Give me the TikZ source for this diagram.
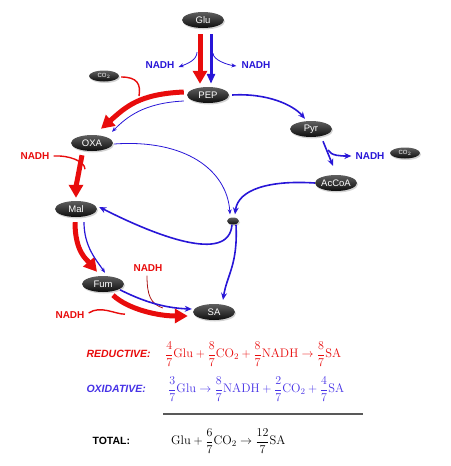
\documentclass[tikz,border=0pt]{standalone}
\usepackage{fontspec}
\setsansfont{Liberation Sans}
\usepackage{amsmath}
\usetikzlibrary{shapes.geometric,arrows.meta,calc,shadows}
\definecolor{rr}{RGB}{232,12,12}
\definecolor{bb}{RGB}{40,22,215}
\definecolor{bt}{RGB}{70,50,230}
\definecolor{dr}{RGB}{170,20,20}
\tikzset{
 met/.style={ellipse, minimum width=42pt, minimum height=16pt, inner sep=0pt, top color=gray!75!black, bottom color=black!95, draw=none, text=white, font=\sffamily\fontsize{9.5}{10}\selectfont, drop shadow={opacity=0.35, shadow xshift=1pt, shadow yshift=-1.5pt}},
 metsm/.style={met, minimum width=30pt, minimum height=11pt, font=\sffamily\fontsize{6}{6}\selectfont},
 dotnode/.style={met, minimum width=12pt, minimum height=7pt},
 nb/.style={text=bb, font=\sffamily\bfseries\fontsize{10}{11}\selectfont, inner sep=1pt},
 nr/.style={text=rr, font=\sffamily\bfseries\fontsize{10}{11}\selectfont, inner sep=1pt},
 redfat/.style={draw=rr, line width=5pt, -{Triangle[length=13pt,width=14pt]}},
 bluefat/.style={draw=bb, line width=3pt, -{Triangle[length=10pt,width=8pt]}},
 bluemid/.style={draw=bb, line width=1.6pt, -{Stealth[length=7pt,width=6pt]}},
 bluethin/.style={draw=bb, line width=0.8pt, -{Stealth[length=5pt,width=4pt]}},
 redthin/.style={draw=rr, line width=1.4pt},
 drthin/.style={draw=dr, line width=0.8pt},
 eqn/.style={anchor=west, font=\fontsize{12.4}{14}\selectfont, inner sep=0pt},
 lab/.style={anchor=west, font=\sffamily\bfseries\itshape\fontsize{10.5}{12}\selectfont},
}
\begin{document}
\begin{tikzpicture}[x=1pt,y=-1pt]
\useasboundingbox (0,0) rectangle (450,466);
% nodes
\node[met] (glu) at (203,20) {Glu};
\node[met] (pep) at (208,95) {PEP};
\node[metsm] (co2a) at (104,76) {CO$_2$};
\node[met] (oxa) at (92,143) {OXA};
\node[met] (pyr) at (311,129) {Pyr};
\node[metsm] (co2b) at (405,153) {CO$_2$};
\node[met] (accoa) at (336,183) {AcCoA};
\node[met] (mal) at (76,209) {Mal};
\node[dotnode] (dot) at (233,221) {};
\node[met] (fum) at (103,284) {Fum};
\node[met] (sa) at (214,312) {SA};
% NADH labels
\node[nb] (n1) at (160,65) {NADH};
\node[nb] (n2) at (256,65) {NADH};
\node[nr] (n3) at (35,156) {NADH};
\node[nb] (n4) at (370,156) {NADH};
\node[nr] (n5) at (148,268) {NADH};
\node[nr] (n6) at (70,315) {NADH};
% Glu -> PEP
\draw[redfat] ($(glu.south)+(-3,6)$) -- ($(pep.north)+(-8,-3)$);
\draw[bluefat] ($(glu.south)+(8,6)$) -- ($(pep.north)+(3,-3)$);
\coordinate (b1) at ($(glu.south)+(-6,24)$);
\coordinate (b2) at ($(glu.south)+(10,25)$);
\draw[bluethin] (b1) .. controls +(0,8) and +(8,-3) .. ($(n1.east)+(3,2)$);
\draw[bluethin] (b2) .. controls +(0,7) and +(-8,-1) .. ($(n2.west)+(-4,1)$);
% CO2 -> OXA
\coordinate (m1) at (139,96);
\draw[redthin] ($(co2a.east)+(2,1)$) .. controls +(16,0) and +(2,-12) .. (m1);
\draw[redfat] ($(pep.west)+(-3,-3)$) .. controls +(-45,2) and +(25,-22) .. ($(oxa.north)+(9,-6)$);
\draw[bluethin] ($(pep.west)+(-3,6)$) .. controls +(-40,2) and +(15,-15) .. ($(oxa.north)+(20,-3)$);
% PEP -> Pyr
\draw[bluemid] ($(pep.east)+(3,0)$) .. controls +(35,-2) and +(-12,-14) .. ($(pyr.north)+(-6,-2)$);
% Pyr -> AcCoA
\coordinate (p1) at (328,150);
\draw[bluemid] ($(pyr.south)+(12,4)$) -- ($(accoa.north)+(-3,-9)$);
\draw[bluemid] (p1) .. controls +(3,6) and +(-10,0) .. ($(n4.west)+(-3,0)$);
% AcCoA -> dot
\draw[bluemid] (accoa.west) .. controls +(-45,-3) and +(3,-25) .. ($(dot.north)+(2,-3)$);
% OXA -> dot
\draw[bluethin] ($(oxa.east)+(1,1)$) .. controls +(70,-5) and +(-3,-45) .. ($(dot.north)+(-3,-3)$);
% dot -> Mal
\draw[bluemid] ($(dot.south)+(-1,0)$) .. controls +(-3,40) and +(55,28) .. ($(mal.east)+(2,-2)$);
% dot -> SA
\draw[bluemid] ($(dot.south)+(3,0)$) .. controls +(2,40) and +(4,-25) .. ($(sa.north)+(9,-4)$);
% OXA -> Mal
\draw[redthin] ($(n3.east)+(3,0)$) .. controls +(15,-1) and +(0,-8) .. ($(oxa.south)+(-7,18)$);
\draw[redfat] ($(oxa.south)+(-10,4)$) .. controls +(-2,10) and +(0,-10) .. ($(mal.north)+(0,-3)$);
% Mal -> Fum
\draw[redfat] ($(mal.south)+(-1,5)$) .. controls +(0,30) and +(-10,-12) .. ($(fum.north)+(-6,-4)$);
\draw[bluethin, line width=1.2pt] ($(mal.south)+(8,5)$) .. controls +(0,25) and +(-8,-12) .. ($(fum.north)+(2,-3)$);
% Fum -> SA
\draw[drthin] ($(n5.south)+(-1,3)$) .. controls +(0,20) and +(-12,-4) .. ($(sa.west)+(-30,-4)$);
\draw[redthin] ($(n6.east)+(3,-2)$) .. controls +(12,-8) and +(-10,0) .. ($(fum.south)+(22,22)$);
\draw[redfat] ($(fum.south)+(10,3)$) .. controls +(15,14) and +(-30,0) .. ($(sa.west)+(-5,4)$);
\draw[bluemid] ($(fum.south east)+(2,0)$) .. controls +(20,10) and +(-30,-1) .. ($(sa.west)+(-1,-3)$);
% equations
\node[lab, text=rr] (lr) at (83,354) {REDUCTIVE:};
\node[eqn, text=rr] (er) at (165,354)
 {$\dfrac{4}{7}\mathrm{Glu}+\dfrac{8}{7}\mathrm{CO_2}+\dfrac{8}{7}\mathrm{NADH}\rightarrow\dfrac{8}{7}\mathrm{SA}$};
\node[lab, text=bt] (lo) at (83,389) {OXIDATIVE:};
\node[eqn, text=bt] (eo) at (168,389)
 {$\dfrac{3}{7}\mathrm{Glu}\rightarrow\dfrac{8}{7}\mathrm{NADH}+\dfrac{2}{7}\mathrm{CO_2}+\dfrac{4}{7}\mathrm{SA}$};
\coordinate (l1) at (163,414);
\coordinate (l2) at (363,414);
\draw[gray!70!black, line width=1.3pt] (l1) -- (l2);
\node[lab, font=\sffamily\bfseries\fontsize{10.5}{12}\selectfont, text=black] (lt) at (89,441) {TOTAL:};
\node[eqn, text=black] (et) at (171,441)
 {$\mathrm{Glu}+\dfrac{6}{7}\mathrm{CO_2}\rightarrow\dfrac{12}{7}\mathrm{SA}$};
\end{tikzpicture}
\end{document}
